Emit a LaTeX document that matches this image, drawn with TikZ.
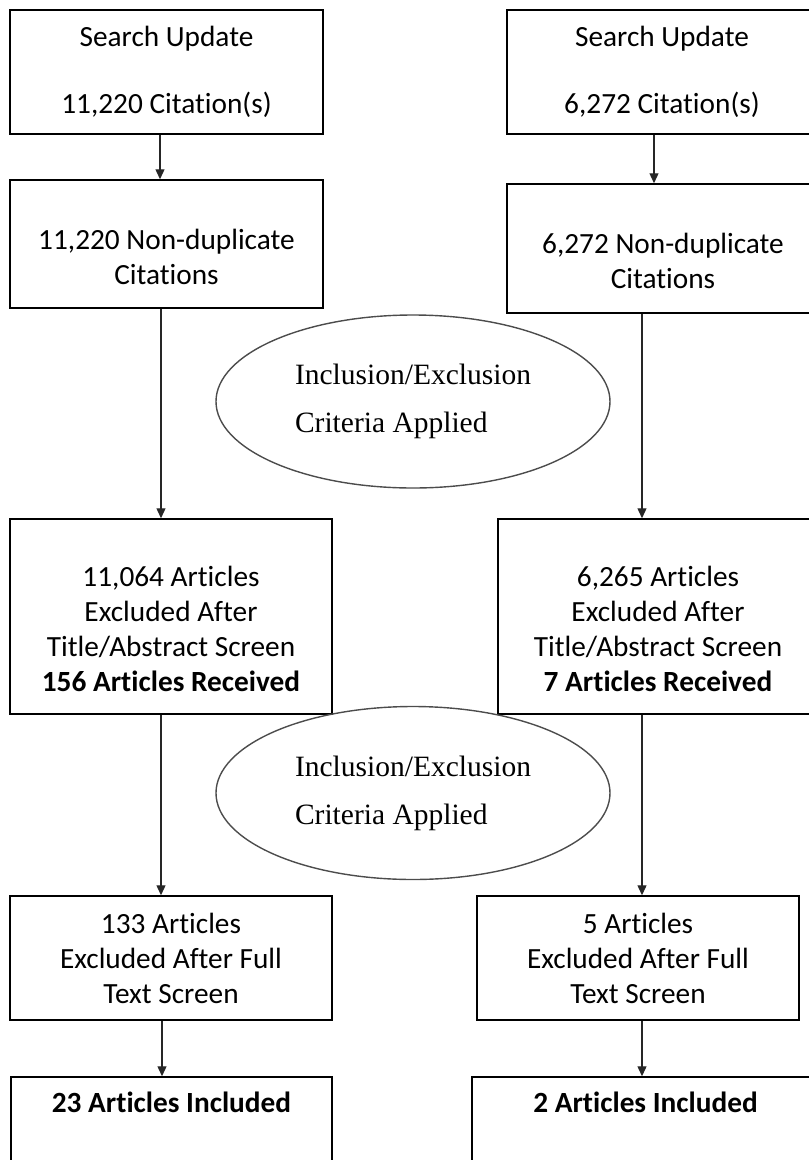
\documentclass[tikz,border=0pt]{standalone}
\usepackage{fontspec}
\setmainfont[Ligatures=NoCommon]{Carlito}
\newfontfamily\critfont{Liberation Serif}
\usepackage{tikz}
\usetikzlibrary{positioning,shapes.geometric,arrows.meta}

\begin{document}
\begin{tikzpicture}[x=1pt, y=-1pt, >={Triangle[length=10pt,width=9pt]},
  box/.style={draw, line width=1.5pt, inner sep=0pt, align=center,
    font=\fontsize{29.3}{35}\selectfont},
  crit/.style={ellipse, draw=black!70, line width=1.4pt, inner sep=0pt,
    minimum width=394pt, minimum height=173pt, align=left,
    font=\critfont\fontsize{29.5}{48}\selectfont},
  arr/.style={->, line width=1.3pt, draw=black!85}]
  \clip[use as bounding box] (0,0) rectangle (809,1160);

  % left column
  \node[box, minimum width=313pt, minimum height=124pt] (L1) at (166.5,72)
    {Search Update\\[32pt]11,220 Citation(s)};
  \node[box, minimum width=313pt, minimum height=128pt] (L2) at (166.5,244)
    {\rule{0pt}{11pt}\\11,220 Non-duplicate\\Citations};
  \node[box, minimum width=322pt, minimum height=195pt] (L3) at (171,616.5)
    {\rule{0pt}{11pt}\\11,064 Articles\\Excluded After\\Title/Abstract Screen\\\textbf{156 Articles Received}};
  \node[box, minimum width=322pt, minimum height=124pt] (L4) at (171,958)
    {133 Articles\\Excluded After Full\\Text Screen};
  \node[box, minimum width=321pt, minimum height=124pt] (L5) at (171.5,1139)
    {\textbf{23 Articles Included}\\[38pt]\mbox{}};

  % right column
  \node[box, minimum width=310pt, minimum height=124pt] (R1) at (662,72)
    {Search Update\\[32pt]6,272 Citation(s)};
  \node[box, minimum width=312pt, minimum height=129pt] (R2) at (663,248.5)
    {\rule{0pt}{11pt}\\6,272 Non-duplicate\\Citations};
  \node[box, minimum width=320pt, minimum height=195pt] (R3) at (658,616.5)
    {\rule{0pt}{11pt}\\6,265 Articles\\Excluded After\\Title/Abstract Screen\\\textbf{7 Articles Received}};
  \node[box, minimum width=322pt, minimum height=124pt] (R4) at (638,958)
    {5 Articles\\Excluded After Full\\Text Screen};
  \node[box, minimum width=347pt, minimum height=124pt] (R5) at (645.5,1139)
    {\textbf{2 Articles Included}\\[38pt]\mbox{}};

  % criteria
  \node[crit] (C1) at (413,401.5) {Inclusion/Exclusion\\Criteria Applied};
  \node[crit] (C2) at (413,793) {Inclusion/Exclusion\\Criteria Applied};

  % arrows
  \draw[arr] (L1.south -| 160,0) -- (L2.north -| 160,0);
  \draw[arr] (L2.south -| 161,0) -- (L3.north -| 161,0);
  \draw[arr] (L3.south -| 161,0) -- (L4.north -| 161,0);
  \draw[arr] (L4.south -| 162,0) -- (L5.north -| 162,0);
  \draw[arr] (R1.south -| 654,0) -- (R2.north -| 654,0);
  \draw[arr] (R2.south -| 642,0) -- (R3.north -| 642,0);
  \draw[arr] (R3.south -| 642,0) -- (R4.north -| 642,0);
  \draw[arr] (R4.south -| 642,0) -- (R5.north -| 642,0);
\end{tikzpicture}
\end{document}
